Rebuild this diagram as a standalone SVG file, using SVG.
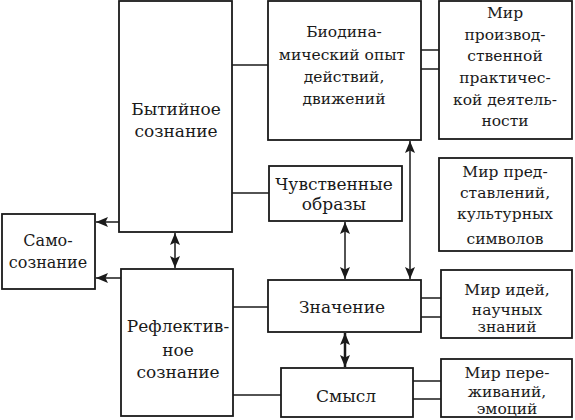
<svg xmlns="http://www.w3.org/2000/svg" width="575" height="420" viewBox="0 0 575 420">
<defs>
<marker id="ah" viewBox="0 0 12 10" refX="12" refY="5" markerWidth="12" markerHeight="10" markerUnits="userSpaceOnUse" orient="auto-start-reverse">
<path d="M0,0 L12,5 L0,10 L2.5,5 z" fill="#1a1a1a"/>
</marker>
</defs>
<style>
rect{fill:#fff;stroke:#1a1a1a;stroke-width:1.8}
line{stroke:#1a1a1a;stroke-width:1.5}
text{font-family:"DejaVu Serif","Liberation Serif",serif;font-size:15.5px;fill:#1a1a1a;text-anchor:middle}
.l{font-size:17px}
.m{font-size:16px}
</style>
<rect x="0" y="0" width="575" height="420" style="fill:#fff;stroke:none"/>
<g id="connectors">
<line x1="232" y1="65" x2="268" y2="65"/>
<line x1="232" y1="193" x2="269" y2="193"/>
<line x1="233" y1="307" x2="268" y2="307"/>
<line x1="233" y1="395" x2="281" y2="395"/>
<line x1="421" y1="50" x2="439" y2="50"/>
<line x1="421" y1="69" x2="439" y2="69"/>
<line x1="421" y1="298" x2="441" y2="298"/>
<line x1="421" y1="317" x2="441" y2="317"/>
<line x1="413" y1="381" x2="441" y2="381"/>
<line x1="413" y1="399" x2="441" y2="399"/>
<line x1="119" y1="222" x2="96" y2="222" marker-end="url(#ah)"/>
<line x1="121" y1="278" x2="96" y2="278" marker-end="url(#ah)"/>
<line x1="175" y1="233" x2="175" y2="268" marker-start="url(#ah)" marker-end="url(#ah)"/>
<line x1="345" y1="222" x2="345" y2="279" marker-start="url(#ah)" marker-end="url(#ah)"/>
<line x1="410" y1="141" x2="410" y2="279" marker-start="url(#ah)" marker-end="url(#ah)"/>
<line x1="345" y1="333" x2="345" y2="367" marker-start="url(#ah)" marker-end="url(#ah)" style="stroke-width:2.5"/>
</g>
<g id="bytiynoe">
<rect x="119" y="1" width="113" height="231"/>
<text class="l" x="176" y="115">Бытийное</text>
<text class="l" x="176" y="137">сознание</text>
</g>
<g id="samosoznanie">
<rect x="2" y="214" width="93" height="75"/>
<text class="m" x="48" y="246">Само-</text>
<text class="m" x="48" y="268">сознание</text>
</g>
<g id="reflektivnoe">
<rect x="121" y="269" width="112" height="147"/>
<text class="l" x="178" y="332">Рефлектив-</text>
<text class="l" x="178" y="356">ное</text>
<text class="l" x="178" y="378">сознание</text>
</g>
<g id="biodinamicheskiy">
<rect x="268" y="1" width="153" height="139"/>
<text x="344" y="37">Биодина-</text>
<text x="342" y="60">мический опыт</text>
<text x="344" y="82">действий,</text>
<text x="344" y="104">движений</text>
</g>
<g id="mir-proizv">
<rect x="439" y="1" width="133" height="138"/>
<text x="505" y="18">Мир</text>
<text x="505" y="40">производ-</text>
<text x="505" y="61">ственной</text>
<text x="505" y="83">практичес-</text>
<text x="505" y="105">кой деятель-</text>
<text x="505" y="126">ности</text>
</g>
<g id="chuvstvennye">
<rect x="269" y="166" width="133" height="55"/>
<text class="l" x="334" y="190">Чувственные</text>
<text class="l" x="334" y="210">образы</text>
</g>
<g id="mir-predstavleniy">
<rect x="439" y="158" width="133" height="93"/>
<text x="505" y="177">Мир пред-</text>
<text x="505" y="198">ставлений,</text>
<text x="505" y="219">культурных</text>
<text x="505" y="244">символов</text>
</g>
<g id="znachenie">
<rect x="268" y="280" width="153" height="52"/>
<text class="l" x="342" y="313">Значение</text>
</g>
<g id="mir-idey">
<rect x="441" y="270" width="131" height="68"/>
<text x="507" y="295">Мир идей,</text>
<text x="507" y="315">научных</text>
<text x="507" y="332">знаний</text>
</g>
<g id="smysl">
<rect x="281" y="368" width="132" height="49"/>
<text class="l" x="346" y="402">Смысл</text>
</g>
<g id="mir-perezhivaniy">
<rect x="441" y="359" width="131" height="58"/>
<text x="507" y="378">Мир пере-</text>
<text x="507" y="397">живаний,</text>
<text x="507" y="414">эмоций</text>
</g>
</svg>
